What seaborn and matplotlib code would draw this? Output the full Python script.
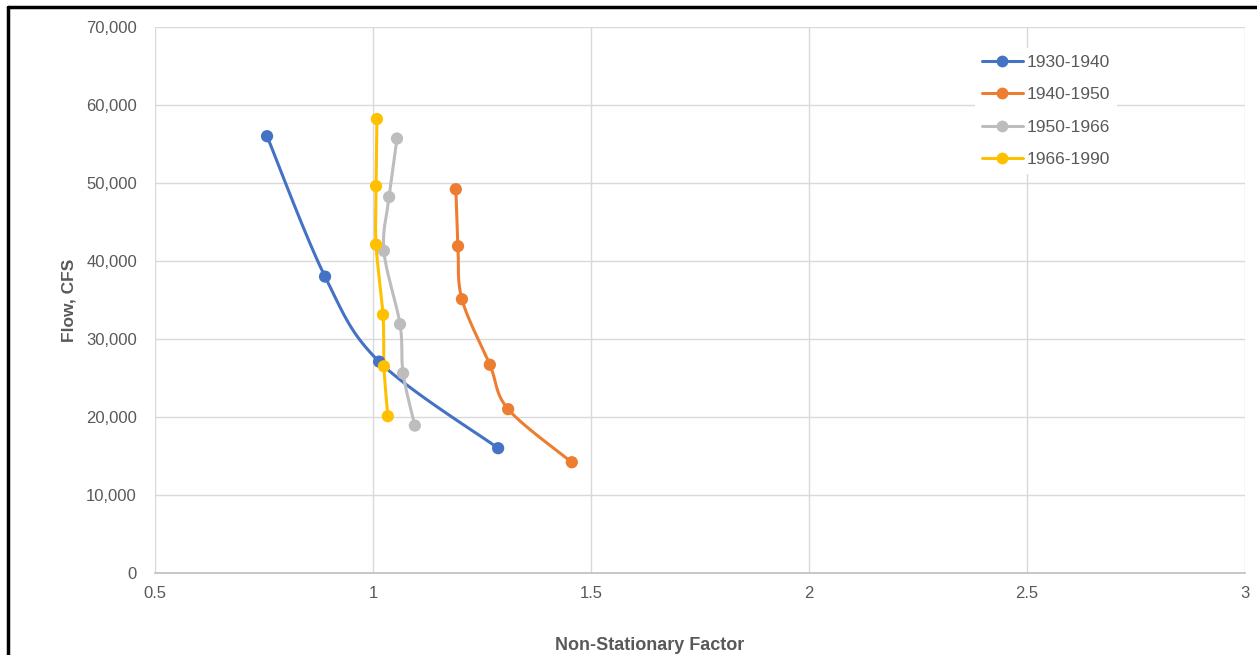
import numpy as np
import pandas as pd
import seaborn as sns
import matplotlib.pyplot as plt
from matplotlib.lines import Line2D
from matplotlib.ticker import FuncFormatter, MultipleLocator

# ---- data ----
series_names = ["1930-1940", "1940-1950", "1950-1966", "1966-1990"]
x_1930 = [0.757, 0.890, 1.014, 1.287]
y_1930 = [56000, 38000, 27100, 16000]
x_1940 = [1.190, 1.195, 1.204, 1.268, 1.310, 1.456]
y_1940 = [49200, 41900, 35100, 26700, 21000, 14200]
x_1950 = [1.055, 1.037, 1.025, 1.062, 1.069, 1.096]
y_1950 = [55700, 48200, 41300, 31900, 25600, 18900]
x_1966 = [1.009, 1.007, 1.007, 1.023, 1.025, 1.034]
y_1966 = [58200, 49600, 42100, 33100, 26500, 20100]
colors = ["#4472C4", "#ED7D31", "#BDBDBD", "#FFC000"]

xs_all = [x_1930, x_1940, x_1950, x_1966]
ys_all = [y_1930, y_1940, y_1950, y_1966]


def smooth(xs, ys, n=30):
    pts = np.column_stack([xs, ys]).astype(float)
    P = np.vstack([pts[0], pts, pts[-1]])
    out = []
    for i in range(1, len(P) - 2):
        p0, p1, p2, p3 = P[i - 1], P[i], P[i + 1], P[i + 2]
        t = np.linspace(0, 1, n, endpoint=(i == len(P) - 3))[:, None]
        c1 = p1 + (p2 - p0) / 6
        c2 = p2 - (p3 - p1) / 6
        seg = ((1 - t) ** 3) * p1 + 3 * ((1 - t) ** 2) * t * c1 + 3 * (1 - t) * t ** 2 * c2 + t ** 3 * p2
        out.append(seg)
    return np.vstack(out)


pts_rows = []
curve_rows = []
for name, xs, ys in zip(series_names, xs_all, ys_all):
    for x, y in zip(xs, ys):
        pts_rows.append({"series": name, "x": x, "y": y})
    c = smooth(xs, ys)
    for k, (x, y) in enumerate(c):
        curve_rows.append({"series": name, "x": x, "y": y, "order": k})
pts_df = pd.DataFrame(pts_rows)
curve_df = pd.DataFrame(curve_rows)
palette = dict(zip(series_names, colors))

sns.set_style("white")
plt.rcParams["font.family"] = ["Liberation Sans", "DejaVu Sans"]

fig = plt.figure(figsize=(12.57, 6.55), dpi=100)
ax = fig.add_axes([155 / 1257, 1 - 573 / 655, 1090 / 1257, 546 / 655])

sns.lineplot(data=curve_df, x="x", y="y", hue="series", palette=palette, sort=False,
             estimator=None, units="series", legend=False, linewidth=2.2, ax=ax, zorder=3)
sns.scatterplot(data=pts_df, x="x", y="y", hue="series", palette=palette, s=78,
                edgecolor="none", legend=False, ax=ax, zorder=4)

ax.set_xlim(0.5, 3)
ax.set_ylim(0, 70000)
ax.xaxis.set_major_locator(MultipleLocator(0.5))
ax.yaxis.set_major_locator(MultipleLocator(10000))
ax.xaxis.set_major_formatter(FuncFormatter(lambda v, p: f"{v:g}"))
ax.yaxis.set_major_formatter(FuncFormatter(lambda v, p: f"{int(v):,}"))
ax.grid(True, color="#D9D9D9", linewidth=1)
ax.set_axisbelow(True)
for s in ["top", "right", "left"]:
    ax.spines[s].set_visible(False)
ax.spines["bottom"].set_color("#BFBFBF")
ax.spines["bottom"].set_linewidth(1.2)
ax.tick_params(axis="both", length=0, labelsize=12, labelcolor="#595959")
ax.tick_params(axis="y", pad=13)
ax.tick_params(axis="x", pad=9)

ax.set_xlabel("Non-Stationary Factor", fontsize=13, fontweight="bold", color="#595959")
ax.xaxis.set_label_coords(0.454, -0.117)
ax.set_ylabel("Flow, CFS", fontsize=12.5, fontweight="bold", color="#595959")
ax.yaxis.set_label_coords(-0.072, 0.5)

handles = [Line2D([0], [0], color=c, lw=2.2, marker="o", markersize=8.5, markeredgewidth=0)
           for c in colors]
leg = ax.legend(handles, series_names, loc="upper left", bbox_to_anchor=(0.744, 0.978),
                frameon=True, fontsize=12.5, labelspacing=1.0, handlelength=2.4,
                handletextpad=0.2, borderpad=0.4)
leg.get_frame().set_facecolor("white")
leg.get_frame().set_edgecolor("none")
leg.get_frame().set_alpha(1)
for t in leg.get_texts():
    t.set_color("#595959")

# outer black frame (top and left)
fig.add_artist(Line2D([8 / 1257, 1], [1 - 7 / 655, 1 - 7 / 655], color="black", lw=2.5,
                      transform=fig.transFigure))
fig.add_artist(Line2D([8 / 1257, 8 / 1257], [0, 1 - 7 / 655], color="black", lw=2.5,
                      transform=fig.transFigure))

fig.savefig("out.png", dpi=100)
